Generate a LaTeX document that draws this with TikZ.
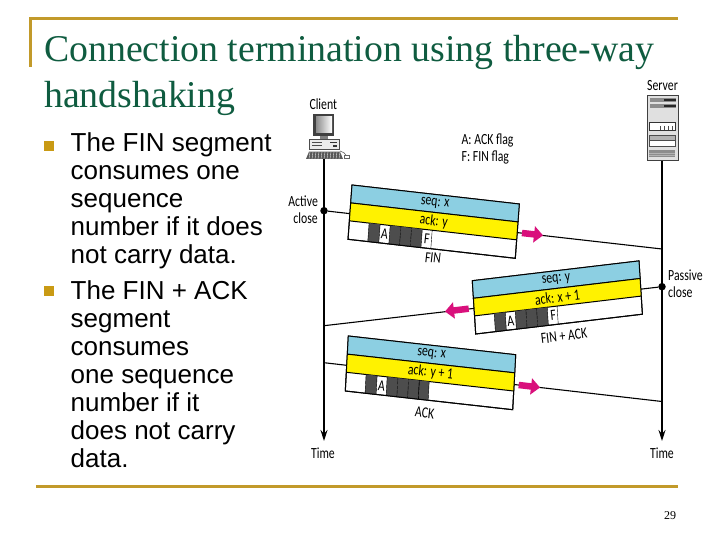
\documentclass[tikz,border=0pt]{standalone}
\usepackage{fontspec}
\setmainfont{Liberation Sans}
\newfontfamily\serifT{Liberation Serif}
\newfontfamily\carl{Carlito}
\usetikzlibrary{arrows.meta}
\definecolor{gold}{HTML}{C29A2A}
\definecolor{bulletgold}{HTML}{C99A14}
\definecolor{titlegreen}{HTML}{0F5C40}
\definecolor{segblue}{HTML}{8CCFE2}
\definecolor{segdark}{HTML}{4D4D4D}
\definecolor{pinkarr}{HTML}{D9107C}
\newcommand{\segm}[5]{% name, TL, u, v, dark-cells
 \begin{scope}[shift={(#2)},x={(#3)},y={(#4)}]
  \draw[segline,fill=white] (0,0) -- (1,0) -- (1,1) -- (0,1) -- cycle;
  \draw[segline,fill=segblue] (0,0) -- (1,0) -- (1,.33) -- (0,.33) -- cycle;
  \draw[segline,fill=yellow] (0,.33) -- (1,.33) -- (1,.66) -- (0,.66) -- cycle;
  \foreach \pa/\pb in {#5}{\fill[segdark] (\pa,.66) -- (\pb,.66) -- (\pb,1) -- (\pa,1) -- cycle;
    \draw[black,line width=.4pt] (\pa,.66) -- (\pa,1);}
  \draw[black,line width=.4pt] (.184,.66) -- (.184,1) (.436,.66) -- (.436,1) (.495,.66) -- (.495,1);
  \draw[segline] (0,.66) -- (0,1) -- (1,1) -- (1,.66);
  \coordinate (#1-A) at (.214,.83);
  \coordinate (#1-F) at (.468,.83);
  \coordinate (#1-seq) at (.5,.165);
  \coordinate (#1-ack) at (.5,.495);
 \end{scope}}
\tikzset{
 segline/.style={draw=black,line width=1pt},
 lbl/.style={xscale=.76,transform shape,font=\fontsize{15.5}{17}\selectfont\carl,inner sep=0pt,text=black},
 lifeline/.style={line width=1.4pt,draw=black},
 msgline/.style={line width=1.1pt,draw=black},
 dotn/.style={circle,fill=black,inner sep=0pt,minimum size=7.5pt},
 pinkline/.style={line width=6.5pt,draw=pinkarr,-{Triangle[width=16pt,length=9pt,fill=pinkarr]}},
 rulel/.style={draw=gold,line width=3pt},
 bodytxt/.style={font=\fontsize{26}{28.1}\selectfont,align=left,anchor=north west,inner sep=0pt,text=black},
 bullet/.style={fill=bulletgold,inner sep=0pt,minimum size=10pt},
 titletxt/.style={font=\fontsize{37.8}{46.3}\selectfont\serifT,text=titlegreen,align=left,anchor=north west,inner sep=0pt},
}
\begin{document}
\begin{tikzpicture}[x=1pt,y=-1pt]
\useasboundingbox (0,0) rectangle (720,540);
\fill[white] (0,0) rectangle (720,540);
% slide frame
\draw[rulel] (30.5,67) -- (30.5,18.5) -- (678,18.5);
\draw[rulel] (36,486.5) -- (678,486.5);
\node[titletxt] (title) at (44,35) {Connection termination using three-way\\handshaking};
\node[bullet] (b1) at (49,146) {};
\node[bullet] (b2) at (49,291) {};
\node[bodytxt] (t1) at (70.5,132) {The FIN segment\\consumes one\\sequence\\number if it does\\not carry data.};
\node[bodytxt] (t2) at (70.5,280) {The FIN + ACK\\segment\\consumes\\one sequence\\number if it\\does not carry\\data.};
\node[font=\fontsize{12}{14}\selectfont\serifT,inner sep=0pt] (pg) at (670,516) {29};
% end points
\node[inner sep=0pt,minimum width=37pt,minimum height=45pt] (client) at (324.5,136.5) {};
\node[draw=black!75,fill=black!12,line width=1pt,inner sep=0pt,minimum width=31pt,minimum height=64.7pt] (server) at (662.8,127.7) {};
\coordinate (cEnd) at (324,441);
\coordinate (sEnd) at (662,441);
\node[dotn] (dA) at (324,210.7) {};
\node[dotn] (dP) at (662,286.7) {};
\coordinate (s1) at (662,249);
\coordinate (c2) at (324,325.7);
\coordinate (c3) at (324,362.7);
\coordinate (s3) at (662,401.5);
% lifelines
\draw[lifeline,-{Stealth[length=11pt,width=7pt]}] (client.south -| dA) -- (cEnd);
\draw[lifeline,-{Stealth[length=11pt,width=7pt]}] (server.south -| dP) -- (sEnd);
% messages
\draw[msgline] (dA) -- (s1);
\draw[msgline] (dP) -- (c2);
\draw[msgline] (c3) -- (s3);
% computer
\fill[black!75] (313.3,114.3) rectangle (334.3,135.7);
\shade[left color=black!45,right color=white] (316,116.5) rectangle (332,133);
\fill[black!50] (320,135.7) rectangle (328,139);
\draw[black!70,fill=black!8,line width=.6pt] (309.3,139.3) rectangle (339.3,149.7);
\fill[black!70] (312,142) rectangle (322,143.3);
\fill[black!70] (312,145) rectangle (322,146);
\fill[black!80] (330,142) rectangle (337,143.3);
\fill[black!80] (333,145.5) rectangle (337,147);
\fill[black!65] (309,151.7) -- (340,151.7) -- (343,159) -- (306,159) -- cycle;
\foreach \q in {310,313,...,340}{\draw[white,line width=.3pt] (\q,152) -- (\q-1,158.8);}
\draw[black!60,line width=.6pt] (340,151) .. controls (343,152) and (345,153) .. (346,155);
\draw[black!60,fill=white,line width=.5pt] (344.5,155) rectangle (349,158.5);
% server details
\fill[black!45] (650,98.3) rectangle (675.7,102.3);
\fill[black!85] (664,99) rectangle (675.7,101.5);
\fill[black!45] (650,104) rectangle (675.7,108.3);
\fill[black!85] (664,104.8) rectangle (675.7,107.3);
\draw[black!80,fill=white,line width=.6pt] (649.3,122.3) rectangle (675,130);
\foreach \q in {660,664,668,672}{\draw[black!70,line width=.5pt] (\q,126) -- (\q,130);}
\draw[black!70,fill=black!30,line width=.5pt] (649.3,135) rectangle (675,140);
\draw[black!70,fill=white,line width=.5pt] (649.3,140) rectangle (675,146.7);
\fill[black!45] (649.3,150) rectangle (675,157.3);
\draw[black!30,line width=.5pt] (649.3,153) -- (675,153);
\draw[black!30,line width=.5pt] (649.3,155) -- (675,155);
% segments
\segm{one}{352,185}{167.3pt,-19pt}{-4pt,-54.3pt}{.118/.184,.244/.308,.308/.372,.372/.436}
\segm{two}{472.3,280.7}{166.7pt,19.8pt}{3.4pt,-53.3pt}{.118/.184,.244/.308,.308/.372,.372/.436}
\segm{thr}{348.3,336}{167.4pt,-18.7pt}{-3pt,-55pt}{.118/.184,.244/.308,.308/.372,.372/.436,.436/.495}
% segment labels
\node[rotate=-6.5,lbl] (l1) at (one-seq) {seq: x};
\node[rotate=-6.5,lbl] (l2) at (one-ack) {ack: y};
\node[rotate=-6.5,lbl] (l3) at (one-A) {A};
\node[rotate=-6.5,lbl] (l4) at (one-F) {F};
\coordinate (l5c) at (433,258);
\node[rotate=-6.5,lbl] (l5) at (l5c) {FIN};
\node[rotate=6.7,lbl] (m1) at (two-seq) {seq: y};
\node[rotate=6.7,lbl] (m2) at (two-ack) {ack: x + 1};
\node[rotate=6.7,lbl] (m3) at (two-A) {A};
\node[rotate=6.7,lbl] (m4) at (two-F) {F};
\coordinate (m5c) at (564,336);
\node[rotate=6.7,lbl] (m5) at (m5c) {FIN + ACK};
\node[rotate=-6.4,lbl] (n1) at (thr-seq) {seq: x};
\node[rotate=-6.4,lbl] (n2) at (thr-ack) {ack: y + 1};
\node[rotate=-6.4,lbl] (n3) at (thr-A) {A};
\coordinate (n5c) at (424.7,413);
\node[rotate=-6.4,lbl] (n5) at (n5c) {ACK};
% pink direction arrows
\coordinate (p1a) at (522,233);
\coordinate (p1b) at (543,235.4);
\coordinate (p2a) at (468.7,308.7);
\coordinate (p2b) at (445,311.5);
\coordinate (p3a) at (518.7,385);
\coordinate (p3b) at (540,387.5);
\draw[pinkline] (p1a) -- (p1b);
\draw[pinkline] (p2a) -- (p2b);
\draw[pinkline] (p3a) -- (p3b);
% free labels
\coordinate (cl0) at (323.3,104.5);
\coordinate (sv0) at (662.5,85.7);
\coordinate (k10) at (461.5,140);
\coordinate (k20) at (461.5,157);
\coordinate (ac10) at (318,201);
\coordinate (ac20) at (318,218);
\coordinate (pa10) at (668,275.7);
\coordinate (pa20) at (668,291.7);
\coordinate (tl0) at (323,453.5);
\coordinate (tr0) at (662,453.5);
\node[lbl] (cl) at (cl0) {Client};
\node[lbl] (sv) at (sv0) {Server};
\node[lbl,anchor=west] (k1) at (k10) {A: ACK flag};
\node[lbl,anchor=west] (k2) at (k20) {F: FIN flag};
\node[lbl,anchor=east] (ac1) at (ac10) {Active};
\node[lbl,anchor=east] (ac2) at (ac20) {close};
\node[lbl,anchor=west] (pa1) at (pa10) {Passive};
\node[lbl,anchor=west] (pa2) at (pa20) {close};
\node[lbl] (tl) at (tl0) {Time};
\node[lbl] (tr) at (tr0) {Time};
\end{tikzpicture}
\end{document}
